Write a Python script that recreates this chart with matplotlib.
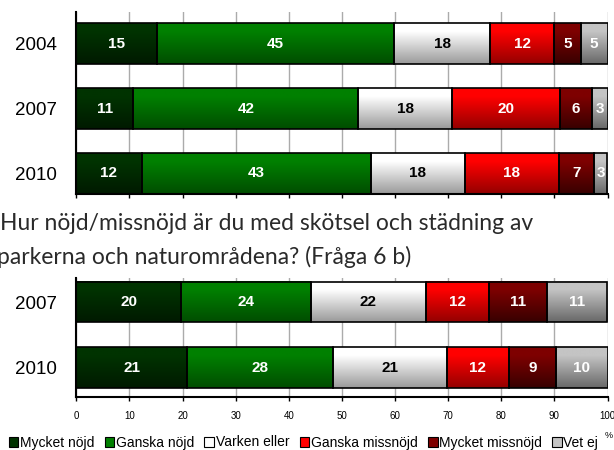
import numpy as np
import matplotlib
matplotlib.use("Agg")
import matplotlib.pyplot as plt
from matplotlib.patches import Patch
from matplotlib.colors import to_rgb

# ---------------- data ----------------
series_names = ["Mycket nöjd", "Ganska nöjd", "Varken eller",
                "Ganska missnöjd", "Mycket missnöjd", "Vet ej"]

top_years = ["2004", "2007", "2010"]
top_mycket_nojd = [15.1, 10.7, 12.3]
top_ganska_nojd = [44.8, 42.4, 43.2]
top_varken = [18.0, 17.7, 17.6]
top_ganska_missnojd = [12.1, 20.2, 17.7]
top_mycket_missnojd = [5.0, 6.1, 6.6]
top_vet_ej = [5.0, 2.9, 2.6]

bot_years = ["2007", "2010"]
bot_mycket_nojd = [19.7, 20.8]
bot_ganska_nojd = [24.4, 27.6]
bot_varken = [21.7, 21.3]
bot_ganska_missnojd = [11.8, 11.7]
bot_mycket_missnojd = [11.1, 8.9]
bot_vet_ej = [11.3, 9.7]

x_ticks = [0, 10, 20, 30, 40, 50, 60, 70, 80, 90, 100]
title_lines = ["Hur nöjd/missnöjd är du med skötsel och städning av",
               "parkerna och naturområdena? (Fråga 6 b)"]

# ---------------- style ----------------
top_colors = ["#003300", "#008000", "#ffffff", "#ff0000", "#7e0000", "#c4c4c4"]
bottom_colors = ["#001a00", "#004d00", "#9a9a9a", "#940000", "#380000", "#686868"]
label_colors = ["white", "white", "black", "white", "white", "white"]

W, H = 614, 450
fig = plt.figure(figsize=(W / 100, H / 100), dpi=100)
fig.patch.set_facecolor("white")

def fx(x):
    return x / W

def fy(y):
    return 1 - y / H

def gradient(c1, c2, n=64):
    a = np.array(to_rgb(c1))
    b = np.array(to_rgb(c2))
    t = np.linspace(0, 1, n)
    f = np.clip((t - 0.2) / 0.8, 0, 1)[:, None]
    g = a * (1 - f) + b * f
    return g[:, None, :]

def draw_chart(ax, years, series, bar_h, ylim, show_xlabels):
    n = len(years)
    pos = np.arange(n)[::-1]  # first category on top
    lefts = np.zeros(n)
    for i, vals in enumerate(series):
        vals = np.asarray(vals, dtype=float)
        bars = ax.barh(pos, vals, left=lefts, height=bar_h, facecolor="none",
                       edgecolor="black", linewidth=1.2, zorder=3)
        grad = gradient(top_colors[i], bottom_colors[i])
        for p, v in zip(bars.patches, vals):
            x0, y0 = p.get_x(), p.get_y()
            w, h = p.get_width(), p.get_height()
            ax.imshow(grad, extent=(x0, x0 + w, y0, y0 + h), origin="upper",
                      aspect="auto", interpolation="bilinear", zorder=2)
            ax.text(x0 + w / 2, y0 + h / 2, f"{round(v)}", ha="center", va="center",
                    color=label_colors[i], fontsize=11, fontweight="bold",
                    family="Liberation Sans", zorder=4)
        lefts = lefts + vals
    ax.set_xlim(0, 100)
    ax.set_ylim(*ylim)
    ax.set_yticks(pos)
    ax.set_yticklabels(years, fontsize=13.5, family="Liberation Sans")
    ax.tick_params(axis="y", length=0, pad=14)
    ax.set_xticks(x_ticks)
    ax.tick_params(axis="x", direction="out", length=3.2, width=1.0, color="black",
                   labelsize=7, pad=6.5, labelbottom=show_xlabels)
    for lab in ax.get_xticklabels():
        lab.set_family("Liberation Sans")
    ax.grid(axis="x", color="#ababab", linewidth=1.0, zorder=0)
    ax.set_axisbelow(True)
    for s in ["top", "right"]:
        ax.spines[s].set_visible(False)
    for s in ["left", "bottom"]:
        ax.spines[s].set_linewidth(1.5)
        ax.spines[s].set_color("black")
        ax.spines[s].set_zorder(5)
    ax.set_facecolor("white")

ax1 = fig.add_axes([fx(76.3), fy(194), fx(607.5) - fx(76.3), (194 - 11.7) / H])
draw_chart(ax1, top_years,
           [top_mycket_nojd, top_ganska_nojd, top_varken,
            top_ganska_missnojd, top_mycket_missnojd, top_vet_ej],
           bar_h=0.627, ylim=(-0.316, 2.493), show_xlabels=False)

ax2 = fig.add_axes([fx(76.3), fy(397.3), fx(607.5) - fx(76.3), (397.3 - 278.3) / H])
draw_chart(ax2, bot_years,
           [bot_mycket_nojd, bot_ganska_nojd, bot_varken,
            bot_ganska_missnojd, bot_mycket_missnojd, bot_vet_ej],
           bar_h=0.62, ylim=(-0.455, 1.362), show_xlabels=True)

# title text between charts
fig.text(fx(0), fy(229.5), title_lines[0], fontsize=16.5, family="Lato",
         color="#2a2a2a", ha="left", va="baseline")
fig.text(fx(-3), fy(264.5), title_lines[1], fontsize=16.5, family="Lato",
         color="#2a2a2a", ha="left", va="baseline")

# legend
handles = [Patch(facecolor=top_colors[i], edgecolor="black", linewidth=0.8)
           for i in range(len(series_names))]
fig.legend(handles, series_names, loc="center", bbox_to_anchor=(fx(303.5), fy(442.5)),
           ncol=6, frameon=False, prop={"family": "Liberation Sans", "size": 10},
           handlelength=0.7, handleheight=0.7, handletextpad=0.1,
           columnspacing=0.75, borderaxespad=0, borderpad=0)

fig.text(fx(605), fy(436), "%", fontsize=6.5, family="Liberation Sans",
         ha="left", va="center")

fig.savefig("out.png", dpi=100)
